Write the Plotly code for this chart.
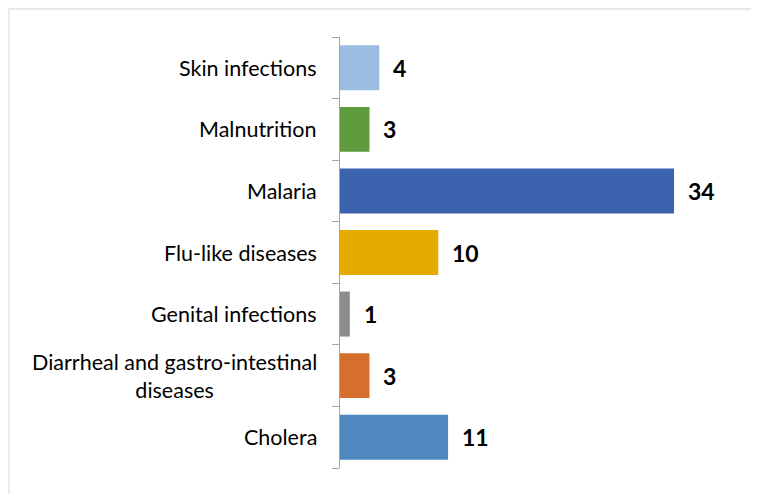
import plotly.graph_objects as go

categories = ["Skin infections", "Malnutrition", "Malaria", "Flu-like diseases",
              "Genital infections", "Diarrheal and gastro-intestinal<br>diseases", "Cholera"]
values = [4, 3, 34, 10, 1, 3, 11]
colors = ["#9bbbe0", "#5f9a3c", "#3c63ad", "#e5ac00", "#8c8c8c", "#d66f2c", "#4f88be"]

# plot bottom-to-top order
cats_r = categories[::-1]
vals_r = values[::-1]
cols_r = colors[::-1]

fig = go.Figure(go.Bar(
    y=cats_r, x=vals_r, orientation="h",
    marker=dict(color=cols_r, line=dict(width=0)),
    hoverinfo="skip",
))

font_family = "Lato, Calibri, Carlito, sans-serif"

annotations = []
for c, v in zip(cats_r, vals_r):
    annotations.append(dict(x=v, y=c, xref="x", yref="y", text=f"<b>{v}</b>",
                            showarrow=False, xanchor="left", xshift=12,
                            font=dict(size=23, color="#000000", family=font_family)))
    annotations.append(dict(x=0, y=c, xref="paper", yref="y", text=c,
                            showarrow=False, xanchor="right", xshift=-21, align="center",
                            font=dict(size=21.5, color="#000000", family=font_family)))

W, H = 751, 486
L, R, T, B = 332, 26, 29, 26
pw, ph = W - L - R, H - T - B

fig.update_layout(
    width=W, height=H,
    margin=dict(l=L, r=R, t=T, b=B),
    paper_bgcolor="white", plot_bgcolor="white",
    bargap=0.27,
    showlegend=False,
    annotations=annotations,
    xaxis=dict(range=[0, 40], visible=False, fixedrange=True),
    yaxis=dict(showticklabels=False, showline=True, linecolor="#a6a6a6", linewidth=1,
               ticks="outside", tickson="boundaries", ticklen=7, tickcolor="#a6a6a6",
               showgrid=False, zeroline=False, fixedrange=True),
    shapes=[
        dict(type="line", xref="paper", yref="paper",
             x0=(0 - L) / pw, x1=(W - L) / pw,
             y0=(ph + T - 1) / ph * 1 - 0 if False else (H - B - 1) / ph, y1=(H - B - 1) / ph,
             line=dict(color="#e8e8e8", width=2), layer="below"),
        dict(type="line", xref="paper", yref="paper",
             x0=(1 - L) / pw, x1=(1 - L) / pw,
             y0=-B / ph, y1=(H - B) / ph,
             line=dict(color="#ececec", width=2), layer="below"),
    ],
)

fig.write_html("out.html")
